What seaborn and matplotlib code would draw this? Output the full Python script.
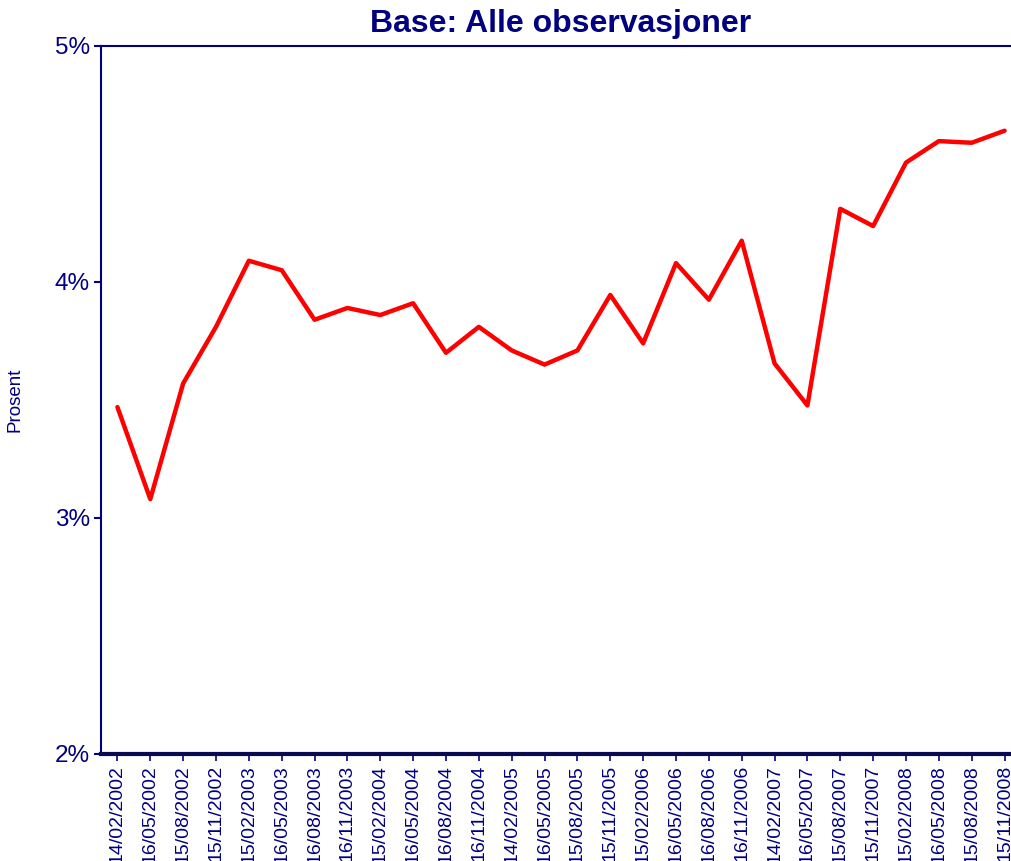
import matplotlib
matplotlib.use("Agg")
import matplotlib.pyplot as plt
import seaborn as sns
import pandas as pd
import numpy as np
from matplotlib.ticker import FuncFormatter

dates = ["14/02/2002", "16/05/2002", "15/08/2002", "15/11/2002", "15/02/2003",
         "16/05/2003", "16/08/2003", "16/11/2003", "15/02/2004", "16/05/2004",
         "16/08/2004", "16/11/2004", "14/02/2005", "16/05/2005", "15/08/2005",
         "15/11/2005", "15/02/2006", "16/05/2006", "16/08/2006", "16/11/2006",
         "14/02/2007", "16/05/2007", "15/08/2007", "15/11/2007", "15/02/2008",
         "16/05/2008", "15/08/2008", "15/11/2008"]
values = [3.47, 3.08, 3.57, 3.81, 4.09, 4.05, 3.84, 3.89, 3.86, 3.91,
          3.70, 3.81, 3.71, 3.65, 3.71, 3.945, 3.74, 4.08, 3.925, 4.175,
          3.655, 3.477, 4.31, 4.237, 4.506, 4.597, 4.59, 4.641]
yticks = [2, 3, 4, 5]

navy = "#000080"
sns.set_theme(style="white")
plt.rcParams['font.family'] = ['Liberation Sans', 'DejaVu Sans']

df = pd.DataFrame({"pos": np.arange(len(dates)), "value": values})

fig = plt.figure(figsize=(10.12, 8.61), dpi=100)
ax = fig.add_axes([101/1012, 107/861, 920/1012, 708/861])
sns.lineplot(data=df, x="pos", y="value", ax=ax, color="#ff0000", linewidth=3.2)

ax.set_xlim(-0.5, len(dates) - 0.5)
ax.set_ylim(2, 5)
ax.set_xticks(np.arange(len(dates)))
ax.set_xticklabels(dates, rotation=90, fontsize=14, color=navy)
ax.set_yticks(yticks)
ax.yaxis.set_major_formatter(FuncFormatter(lambda v, p: f"{v:.0f}%"))
ax.tick_params(axis="y", length=5, width=1.5, color=navy, direction="out", left=True, pad=3, labelsize=17.5, labelcolor=navy)
ax.tick_params(axis="x", length=5, width=1.2, color=navy, direction="out", bottom=True, pad=3, labelsize=14, labelcolor=navy)

ax.set_xlabel("")
ax.set_ylabel("Prosent", fontsize=13.5, color=navy)
ax.yaxis.set_label_coords(-77/920, 0.50)
ax.set_title("Base: Alle observasjoner", fontsize=23, fontweight="bold", color=navy, pad=10)

for s in ["left", "top"]:
    ax.spines[s].set_visible(True)
    ax.spines[s].set_color(navy)
    ax.spines[s].set_linewidth(1.5)
ax.spines["bottom"].set_color("#0a0a50")
ax.spines["bottom"].set_linewidth(3)
ax.spines["right"].set_visible(False)
ax.grid(False)

fig.savefig("out.png", dpi=100)
